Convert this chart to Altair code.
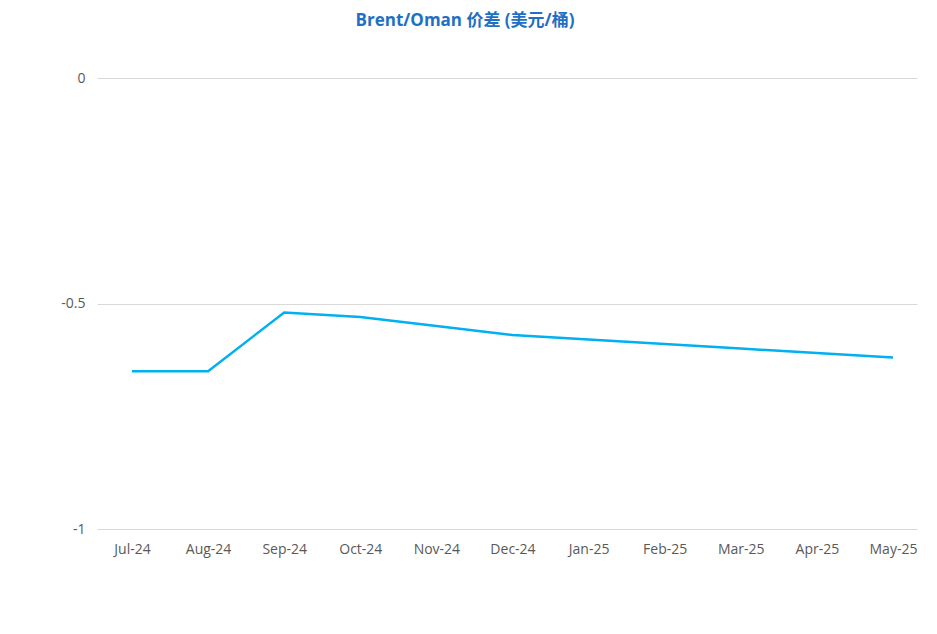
import altair as alt
import pandas as pd

months = ["Jul-24", "Aug-24", "Sep-24", "Oct-24", "Nov-24", "Dec-24",
          "Jan-25", "Feb-25", "Mar-25", "Apr-25", "May-25"]
spread = [-0.65, -0.65, -0.52, -0.53, -0.55, -0.57, -0.58, -0.59, -0.60, -0.61, -0.62]

df = pd.DataFrame({"month": months, "spread": spread})

FONT = "Open Sans, Noto Sans CJK SC, sans-serif"

chart = alt.Chart(df).mark_line(color="#00b0f0", strokeWidth=2.5).encode(
    x=alt.X("month:N", sort=months, title=None,
            scale=alt.Scale(type="point", padding=0.3877, align=0.593),
            axis=alt.Axis(labelAngle=0, ticks=False, domain=False, grid=False,
                          labelPadding=13, labelFontSize=14, labelColor="#595959",
                          labelFont=FONT)),
    y=alt.Y("spread:Q", title=None,
            scale=alt.Scale(domain=[-1, 0], nice=False),
            axis=alt.Axis(values=[-1, -0.5, 0], ticks=False, domain=False,
                          gridColor="#d9d9d9", gridWidth=1, labelPadding=12,
                          labelFontSize=14, labelColor="#595959", labelFont=FONT,
                          labelExpr="datum.value + ''")),
).properties(
    width=820, height=451,
    autosize=alt.AutoSizeParams(type="none"),
    padding={"left": 89, "top": 70, "right": 12, "bottom": 90},
    title=alt.TitleParams("Brent/Oman 价差 (美元/桶)", font=FONT, fontSize=17,
                          fontWeight="bold", color="#1f6fc5", anchor="middle",
                          dx=-42, offset=41),
).configure_view(stroke=None)

chart.save("out.html", embed_options={"renderer": "svg", "actions": False})
